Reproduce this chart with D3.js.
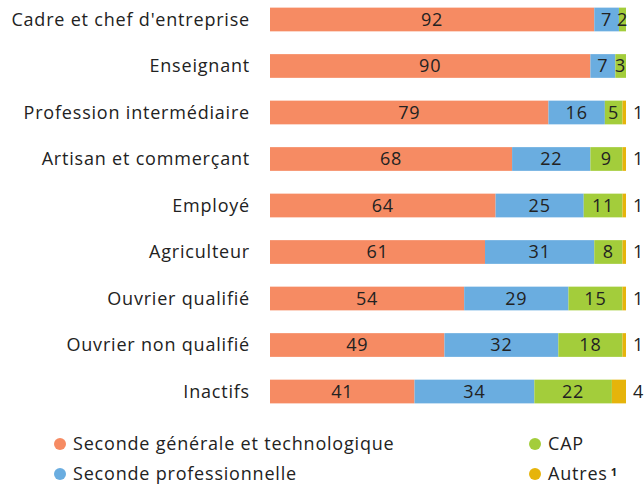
<!DOCTYPE html>
<html>
<head>
<meta charset="utf-8">
<script src="https://cdn.jsdelivr.net/npm/d3@7"></script>
<style>
body { margin: 0; background: #fff; }
text { font-family: "Open Sans", "Noto Sans", sans-serif; fill: #222; letter-spacing: 0.8px; }
</style>
</head>
<body>
<div id="chart"></div>
<script>
// categories
var categories = ["Cadre et chef d'entreprise", "Enseignant", "Profession intermédiaire",
  "Artisan et commerçant", "Employé", "Agriculteur", "Ouvrier qualifié",
  "Ouvrier non qualifié", "Inactifs"];
// series values
var generale = [92, 90, 79, 68, 64, 61, 54, 49, 41];
var pro = [7, 7, 16, 22, 25, 31, 29, 32, 34];
var cap = [2, 3, 5, 9, 11, 8, 15, 18, 22];
var autres = [0, 0, 1, 1, 1, 1, 1, 1, 4];

var seriesKeys = ["generale", "pro", "cap", "autres"];
var seriesNames = ["Seconde générale et technologique", "Seconde professionnelle", "CAP", "Autres"];
var colors = ["#f68b63", "#6aade0", "#a3cd3b", "#e6b40b"];

var width = 644, height = 484;

// build table
var data = categories.map(function(c, i){
  return {cat: c, generale: generale[i], pro: pro[i], cap: cap[i], autres: autres[i]};
});

var svg = d3.select("#chart").append("svg")
  .attr("width", width)
  .attr("height", height);

var x = d3.scaleLinear().domain([0, 1]).range([270, 626]);
var y = d3.scaleBand().domain(categories).range([-4, 415]).paddingInner(0.49).paddingOuter(0.25);
var color = d3.scaleOrdinal().domain(seriesKeys).range(colors);

var stack = d3.stack().keys(seriesKeys).offset(d3.stackOffsetExpand);
var series = stack(data);

// category labels
svg.selectAll(".cat")
  .data(categories)
  .enter().append("text")
  .attr("class", "cat")
  .attr("x", 250)
  .attr("y", function(d){ return y(d) + y.bandwidth() / 2; })
  .attr("dy", "0.36em")
  .attr("text-anchor", "end")
  .style("font-size", "18px")
  .text(function(d){ return d; });

// bars
var g = svg.selectAll(".serie")
  .data(series)
  .enter().append("g")
  .attr("class", "serie")
  .style("fill", function(d){ return color(d.key); });

g.selectAll("rect")
  .data(function(d){ return d; })
  .enter().append("rect")
  .attr("x", function(d){ return x(d[0]); })
  .attr("y", function(d){ return y(d.data.cat); })
  .attr("width", function(d){ return Math.max(0, x(d[1]) - x(d[0])); })
  .attr("height", y.bandwidth());

// value labels inside bars
series.forEach(function(s){
  svg.selectAll(".lbl-" + s.key)
    .data(s.filter(function(d){ return d.data[s.key] > 0; }))
    .enter().append("text")
    .attr("x", function(d){
      if (s.key == "autres") return x(1) + 7;
      return (x(d[0]) + x(d[1])) / 2;
    })
    .attr("y", function(d){ return y(d.data.cat) + y.bandwidth() / 2; })
    .attr("dy", "0.36em")
    .attr("text-anchor", s.key == "autres" ? "start" : "middle")
    .style("font-size", "18px")
    .text(function(d){ return d.data[s.key]; });
});

// legend
var legendPos = [[60, 444], [60, 474], [535, 444], [535, 474]];
var legend = svg.selectAll(".legend")
  .data(seriesKeys)
  .enter().append("g")
  .attr("class", "legend")
  .attr("transform", function(d, i){ return "translate(" + legendPos[i][0] + "," + legendPos[i][1] + ")"; });

legend.append("circle")
  .attr("r", 6)
  .style("fill", function(d){ return color(d); });

legend.append("text")
  .attr("x", 13)
  .attr("dy", "0.36em")
  .style("font-size", "18px")
  .text(function(d, i){ return seriesNames[i]; })
  .filter(function(d){ return d == "autres"; })
  .append("tspan")
  .attr("dx", 3)
  .attr("dy", "-0.4em")
  .style("font-size", "11px")
  .style("font-weight", "bold")
  .text("1");
</script>
</body>
</html>
